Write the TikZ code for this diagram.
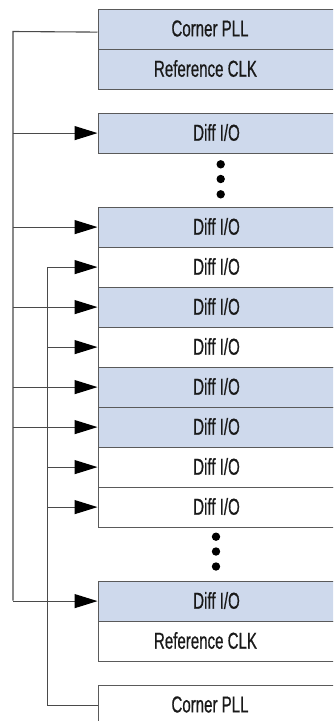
\documentclass[tikz,border=0pt]{standalone}
\usepackage{fontspec}
\setmainfont{Liberation Sans}[FakeStretch=0.655,FakeBold=0.6]
\usetikzlibrary{arrows.meta}
\definecolor{boxblue}{HTML}{CED9EC}
\definecolor{boxline}{HTML}{5A5A5A}
\definecolor{wirec}{HTML}{4A4A4A}
\tikzset{
  cell/.style={draw=boxline, line width=1.2pt, minimum width=240pt, minimum height=40pt, anchor=north west, inner sep=0pt},
  bcell/.style={cell, fill=boxblue},
  wcell/.style={cell, fill=white},
  lbl/.style={font=\fontsize{23}{27}\selectfont, inner sep=0pt, text=black!90},
  wire/.style={draw=wirec, line width=1.1pt},
  arr/.style={wire, -{Triangle[length=23pt,width=14pt,fill=black,color=black]}},
  dotc/.style={fill=black, draw=none}
}
\begin{document}
\begin{tikzpicture}[x=1pt,y=-1pt]
\useasboundingbox (0,0) rectangle (333,721);
\clip (0,0) rectangle (333,721);
% boxes
\node[bcell] (cpll) at (97.5,8.5) {};
\node[bcell] (rclk) at (97.5,48.5) {};
\node[bcell] (d1) at (97.5,112.5) {};
\node[bcell] (d2) at (97.5,206.5) {};
\node[wcell] (d3) at (97.5,246.5) {};
\node[bcell] (d4) at (97.5,286.5) {};
\node[wcell] (d5) at (97.5,326.5) {};
\node[bcell] (d6) at (97.5,366.5) {};
\node[bcell] (d7) at (97.5,406.5) {};
\node[wcell] (d8) at (97.5,446.5) {};
\node[wcell] (d9) at (97.5,486.5) {};
\node[bcell] (d10) at (97.5,580.5) {};
\node[wcell] (rclkb) at (97.5,620.5) {};
\node[wcell] (cpllb) at (97.5,684.5) {};
% labels
\node[lbl] (tcpll) at (210,28.5) {Corner PLL};
\node[lbl] (trclk) at (205.5,68.5) {Reference CLK};
\node[lbl] (t1) at (216.5,132.5) {Diff I/O};
\node[lbl] (t2) at (216.5,226.5) {Diff I/O};
\node[lbl] (t3) at (216.5,266.5) {Diff I/O};
\node[lbl] (t4) at (216.5,306.5) {Diff I/O};
\node[lbl] (t5) at (216.5,346.5) {Diff I/O};
\node[lbl] (t6) at (216.5,386.5) {Diff I/O};
\node[lbl] (t7) at (216.5,426.5) {Diff I/O};
\node[lbl] (t8) at (216.5,466.5) {Diff I/O};
\node[lbl] (t9) at (216.5,506.5) {Diff I/O};
\node[lbl] (t10) at (216.5,600.5) {Diff I/O};
\node[lbl] (trclkb) at (205.5,640.5) {Reference CLK};
\node[lbl] (tcpllb) at (210,704.5) {Corner PLL};
% dots
\fill[dotc] (220.7,164.3) circle (4.2pt);
\fill[dotc] (220.7,179) circle (4.2pt);
\fill[dotc] (220.7,194.3) circle (4.2pt);
\fill[dotc] (216,536.7) circle (4.2pt);
\fill[dotc] (216,551.5) circle (4.2pt);
\fill[dotc] (216,566.5) circle (4.2pt);
% outer bus
\coordinate (otop) at (13,31.5);
\coordinate (obot) at (13,600.5);
\draw[wire] ([yshift=-3pt]cpll.west) -- (otop) -- (obot);
\foreach \b in {d1,d2,d4,d6,d7,d10}{
  \draw[arr] (\b.west -| otop) -- (\b.west);
}
% inner bus
\coordinate (itop) at (47.7,266.5);
\draw[wire] (cpllb.west) -- (cpllb.west -| itop) -- (itop);
\foreach \b in {d3,d5,d8,d9}{
  \draw[arr] (\b.west -| itop) -- (\b.west);
}
\end{tikzpicture}
\end{document}
